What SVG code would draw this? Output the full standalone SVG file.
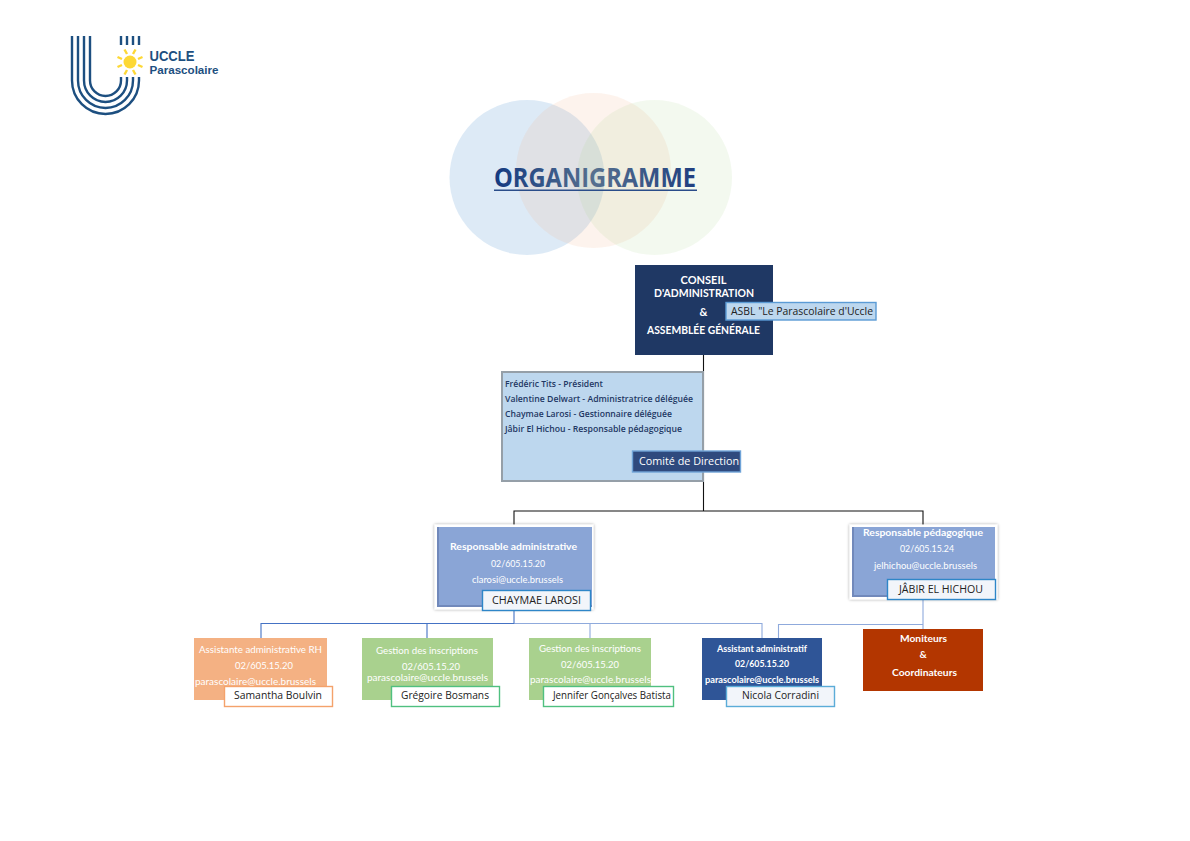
<svg xmlns="http://www.w3.org/2000/svg" width="1190" height="841" viewBox="0 0 1190 841">
<style>
text{font-family:Lato,"Open Sans","Liberation Sans",sans-serif}
.w{fill:#fff}.b{font-weight:700}
.s9{font-size:10px}
.s11{font-family:"Open Sans","Liberation Sans",sans-serif;font-size:10.5px}
.name{fill:#222;font-family:"Open Sans","Liberation Sans",sans-serif;font-size:10.5px}
.dir{fill:#1f3864;font-family:"Open Sans","Liberation Sans",sans-serif;font-size:8.8px;font-weight:600}
.ca{fill:#fff;font-size:11px;font-weight:700;text-anchor:middle}
.lk{fill:none;stroke-width:1.1}
.logo{fill:none;stroke:#1d4f80;stroke-width:2.4}
.ray{stroke:#fdd835;stroke-width:2.4;fill:none}
.bevel{fill:none;stroke:#7189bb;stroke-width:2}
.tag{stroke-width:1.4}
</style>
<defs>
<linearGradient id="tg" x1="0" x2="1" y1="0" y2="0">
<stop offset="0" stop-color="#143a80"/><stop offset=".5" stop-color="#56708f"/><stop offset="1" stop-color="#1f3f80"/>
</linearGradient>
<filter id="sh" x="-5%" y="-5%" width="110%" height="110%"><feDropShadow dx="0" dy="0" stdDeviation="1.5" flood-color="#000" flood-opacity=".4"/></filter>
</defs>
<rect width="1190" height="841" fill="#fff"/>

<g id="logo">
<path class="logo" d="M72 36V80.500A33.500 33.500 0 0 0 139 80.500V77"/>
<path class="logo" d="M78 36V80.500A27.500 27.500 0 0 0 133 80.500V77"/>
<path class="logo" d="M84 36V80.500A21.500 21.500 0 0 0 127 80.500V77"/>
<path class="logo" d="M90 36V80.500A15.500 15.500 0 0 0 121 80.500V77"/>
<path class="logo" d="M121 36V45M127 36V45M133 36V45M139 36V45"/>
<circle cx="130" cy="62" r="6.500" fill="#fdd835"/>
<path class="ray" d="M124.500 49.500L127 54M135.500 49.500L133 54M117.500 57L122 59M142.500 57L138 59M117.500 67L122 65M142.500 67L138 65M124.500 74.500L127 70M135.500 74.500L133 70"/>
<text x="149.500" y="61" font-size="15" font-weight="700" fill="#1d4f80" style="font-family:'Liberation Sans',sans-serif" textLength="45" lengthAdjust="spacingAndGlyphs">UCCLE</text>
<text x="149.500" y="74" font-size="11" font-weight="700" fill="#1d4f80" style="font-family:'Liberation Sans',sans-serif" textLength="69" lengthAdjust="spacingAndGlyphs">Parascolaire</text>
</g>

<g id="title">
<circle cx="527" cy="177.500" r="77.500" fill="#9dc3e6" fill-opacity=".35"/>
<circle cx="593.500" cy="170.500" r="77.500" fill="#f4b183" fill-opacity=".15"/>
<circle cx="654.500" cy="177.500" r="77.500" fill="#a9d18e" fill-opacity=".14"/>
<text x="494" y="187" font-size="26" font-weight="700" fill="url(#tg)" style="font-family:'Open Sans',sans-serif" textLength="202" lengthAdjust="spacingAndGlyphs">ORGANIGRAMME</text>
<rect x="494" y="189.500" width="203" height="1.500" fill="#2a4d8a"/>
</g>

<g id="connectors">
<path class="lk" stroke="#111" d="M703.500 355V511M514 525V511H923V525"/>
<path class="lk" stroke="#8faadc" d="M514 623.500H762V638M590 623.500V638"/>
<path class="lk" stroke="#4472c4" d="M514 610V623.500M261 638V623.500H514M427 623.500V638"/>
<path class="lk" stroke="#8faadc" d="M923 599V629M923 624.500H778.500V638"/>
</g>

<g id="conseil">
<rect x="635" y="265" width="138" height="90" fill="#1f3864"/>
<text class="ca" x="703.500" y="284">CONSEIL</text>
<text class="ca" x="704" y="297" textLength="100" lengthAdjust="spacingAndGlyphs">D'ADMINISTRATION</text>
<text class="ca" x="703.500" y="316">&amp;</text>
<text class="ca" x="703.500" y="334" textLength="113" lengthAdjust="spacingAndGlyphs">ASSEMBLÉE GÉNÉRALE</text>
</g>
<g id="asbl">
<rect class="tag" x="726" y="302.500" width="150" height="17.500" fill="#bdd7ee" stroke="#5b9bd5"/>
<text class="name" x="731" y="315" textLength="142" lengthAdjust="spacingAndGlyphs">ASBL "Le Parascolaire d'Uccle</text>
</g>

<g id="direction">
<rect x="502" y="372" width="201" height="109" fill="#bdd7ee" stroke="#959fa8" stroke-width="2"/>
<text class="dir" x="505" y="387" textLength="98" lengthAdjust="spacingAndGlyphs">Frédéric Tits - Président</text>
<text class="dir" x="505" y="402" textLength="188" lengthAdjust="spacingAndGlyphs">Valentine Delwart - Administratrice déléguée</text>
<text class="dir" x="505" y="417" textLength="167" lengthAdjust="spacingAndGlyphs">Chaymae Larosi - Gestionnaire déléguée</text>
<text class="dir" x="505" y="432" textLength="177" lengthAdjust="spacingAndGlyphs">Jâbir El Hichou - Responsable pédagogique</text>
</g>
<g id="comite">
<rect class="tag" x="632.500" y="451" width="108" height="21" fill="#2f4a7e" stroke="#6fa3d8"/>
<text class="w s11" x="639" y="465" textLength="100" lengthAdjust="spacingAndGlyphs">Comité de Direction</text>
</g>

<g id="resp-admin">
<rect x="434.500" y="524.500" width="159" height="85" fill="#fff" filter="url(#sh)"/>
<rect x="437" y="527" width="155" height="80" fill="#8aa5d6"/>
<path class="bevel" d="M438 527V606H592"/>
<text class="w b s9" x="450" y="550" textLength="127" lengthAdjust="spacingAndGlyphs">Responsable administrative</text>
<text class="w s9" x="491" y="567" textLength="54" lengthAdjust="spacingAndGlyphs">02/605.15.20</text>
<text class="w s9" x="472" y="583" textLength="91" lengthAdjust="spacingAndGlyphs">clarosi@uccle.brussels</text>
<rect class="tag" x="482.500" y="590.500" width="108" height="20" fill="#f2f5fa" stroke="#2e86c8"/>
<text class="name" x="492" y="604" textLength="89" lengthAdjust="spacingAndGlyphs">CHAYMAE LAROSI</text>
</g>

<g id="resp-peda">
<rect x="849.500" y="524.500" width="148" height="75" fill="#fff" filter="url(#sh)"/>
<rect x="852" y="527" width="143" height="70" fill="#8aa5d6"/>
<path class="bevel" d="M853 527V596H995"/>
<text class="w b s9" x="863" y="536" textLength="120" lengthAdjust="spacingAndGlyphs">Responsable pédagogique</text>
<text class="w s9" x="900" y="552" textLength="54" lengthAdjust="spacingAndGlyphs">02/605.15.24</text>
<text class="w s9" x="874" y="569" textLength="103" lengthAdjust="spacingAndGlyphs">jelhichou@uccle.brussels</text>
<rect class="tag" x="887.500" y="579.500" width="108" height="20" fill="#f2f5fa" stroke="#2e86c8"/>
<text class="name" x="899" y="593" textLength="84" lengthAdjust="spacingAndGlyphs">JÂBIR EL HICHOU</text>
</g>

<g id="samantha">
<rect x="194" y="638" width="133" height="62" fill="#f4b183"/>
<text class="w s9" x="199" y="653" textLength="123" lengthAdjust="spacingAndGlyphs">Assistante administrative RH</text>
<text class="w s9" x="235" y="669" textLength="58" lengthAdjust="spacingAndGlyphs">02/605.15.20</text>
<text class="w s9" x="195" y="685" textLength="121" lengthAdjust="spacingAndGlyphs">parascolaire@uccle.brussels</text>
<rect class="tag" x="224.500" y="686.500" width="108" height="20" fill="#fff" stroke="#f4a26b"/>
<text class="name" x="234" y="699" textLength="88" lengthAdjust="spacingAndGlyphs">Samantha Boulvin</text>
</g>

<g id="gregoire">
<rect x="362" y="638" width="131" height="62" fill="#a9d18e"/>
<text class="w s9" x="376" y="654" textLength="102" lengthAdjust="spacingAndGlyphs">Gestion des inscriptions</text>
<text class="w s9" x="402" y="670" textLength="58" lengthAdjust="spacingAndGlyphs">02/605.15.20</text>
<text class="w s9" x="367" y="681" textLength="121" lengthAdjust="spacingAndGlyphs">parascolaire@uccle.brussels</text>
<rect class="tag" x="391.500" y="686.500" width="108" height="20" fill="#fff" stroke="#50c080"/>
<text class="name" x="401" y="699" textLength="88" lengthAdjust="spacingAndGlyphs">Grégoire Bosmans</text>
</g>

<g id="jennifer">
<rect x="529" y="638" width="122" height="62" fill="#a9d18e"/>
<text class="w s9" x="539" y="652" textLength="102" lengthAdjust="spacingAndGlyphs">Gestion des inscriptions</text>
<text class="w s9" x="561" y="668" textLength="58" lengthAdjust="spacingAndGlyphs">02/605.15.20</text>
<text class="w s9" x="530" y="683" textLength="121" lengthAdjust="spacingAndGlyphs">parascolaire@uccle.brussels</text>
<rect class="tag" x="543.500" y="686.500" width="130" height="20" fill="#fff" stroke="#50c080"/>
<text class="name" x="553" y="699" textLength="118" lengthAdjust="spacingAndGlyphs">Jennifer Gonçalves Batista</text>
</g>

<g id="nicola">
<rect x="702" y="638" width="120" height="62" fill="#2f5597"/>
<text class="w b s9" x="717" y="652" textLength="90" lengthAdjust="spacingAndGlyphs">Assistant administratif</text>
<text class="w b s9" x="735" y="667" textLength="54" lengthAdjust="spacingAndGlyphs">02/605.15.20</text>
<text class="w b s9" x="705" y="683" textLength="114" lengthAdjust="spacingAndGlyphs">parascolaire@uccle.brussels</text>
<rect class="tag" x="726.500" y="686.500" width="108" height="20" fill="#f2f5fa" stroke="#5bacd8"/>
<text class="name" x="742" y="699" textLength="77" lengthAdjust="spacingAndGlyphs">Nicola Corradini</text>
</g>

<g id="moniteurs">
<rect x="863" y="629" width="120" height="62" fill="#b33600"/>
<text class="w b s9" x="900" y="642" textLength="47" lengthAdjust="spacingAndGlyphs">Moniteurs</text>
<text class="w b s9" x="923" y="658" text-anchor="middle">&amp;</text>
<text class="w b s9" x="892" y="676" textLength="65" lengthAdjust="spacingAndGlyphs">Coordinateurs</text>
</g>
</svg>
